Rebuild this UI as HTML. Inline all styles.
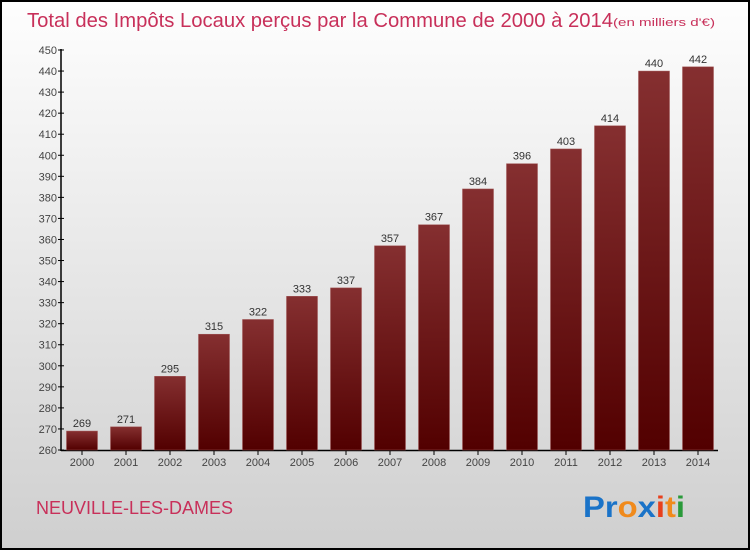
<!DOCTYPE html>
<html><head><meta charset="utf-8"><style>
body{margin:0;width:750px;height:550px;overflow:hidden}
svg{display:block}
text{font-family:"Liberation Sans",sans-serif}
</style></head><body>
<svg id="c" width="750" height="550" xmlns="http://www.w3.org/2000/svg">
<defs>
<linearGradient id="bg" x1="0" y1="0" x2="0" y2="1"><stop offset="0" stop-color="#fefefe"/><stop offset="1" stop-color="#cfcfcf"/></linearGradient>
<linearGradient id="bar" x1="0" y1="0" x2="0" y2="1"><stop offset="0" stop-color="#852f30"/><stop offset="1" stop-color="#520000"/></linearGradient>
</defs>
<rect x="1" y="1" width="748" height="548" fill="url(#bg)" stroke="#000" stroke-width="2"/>
<text x="27" y="27" font-size="20" fill="#c8305a" textLength="586" lengthAdjust="spacingAndGlyphs">Total des Impôts Locaux perçus par la Commune de 2000 à 2014</text>
<text x="613" y="26" font-size="11" fill="#c8305a" textLength="102" lengthAdjust="spacingAndGlyphs">(en milliers d'€)</text>
<text x="36" y="514" font-size="18" fill="#c8305a">NEUVILLE-LES-DAMES</text>
<g font-size="30" font-weight="bold">
<text x="583" y="517" textLength="102" lengthAdjust="spacingAndGlyphs"><tspan fill="#1a73c8">Pr</tspan><tspan fill="#f08a1c">o</tspan><tspan fill="#1a73c8">x</tspan><tspan fill="#e8401c">i</tspan><tspan fill="#f08a1c">t</tspan><tspan fill="#2a9a3a">i</tspan></text>
</g>
<g id="axes"></g>
<g id="bars"></g>
</svg>
<script>
const years=["2000","2001","2002","2003","2004","2005","2006","2007","2008","2009","2010","2011","2012","2013","2014"];
const values=[269,271,295,315,322,333,337,357,367,384,396,403,414,440,442];
const yTicks=[260,270,280,290,300,310,320,330,340,350,360,370,380,390,400,410,420,430,440,450];
const NS="http://www.w3.org/2000/svg";
const y0=450,y1=50,vmin=260,vmax=450;
function ys(v){return y0-(v-vmin)/(vmax-vmin)*(y0-y1);}
function xs(i){return 82+i*44;}
function mk(t,a,p){const e=document.createElementNS(NS,t);for(const k in a)e.setAttribute(k,a[k]);p.appendChild(e);return e;}
const ax=document.getElementById('axes'),bs=document.getElementById('bars');
const yl=mk('line',{x1:61,y1:49,x2:61,y2:451,stroke:'#000','stroke-width':1.5},ax);


const xl=mk('line',{x1:61,y1:450.5,x2:718,y2:450.5,stroke:'#000','stroke-width':1.5},ax);


yTicks.forEach(v=>{
 const y=ys(v);
 mk('line',{x1:58,y1:y,x2:64,y2:y,stroke:'#000'},ax);
 const t=mk('text',{x:57,y:y+4,'font-size':11,fill:'#444','text-anchor':'end'},ax);
 t.textContent=v;
 
 
});
years.forEach((yr,i)=>{
 const x=xs(i);
 mk('line',{x1:x,y1:450,x2:x,y2:455,stroke:'#000'},ax);
 const t=mk('text',{x:x,y:466,'font-size':11,fill:'#444','text-anchor':'middle'},ax);
 t.textContent=yr;
 
 
 const top=ys(values[i]);
 const r=mk('rect',{x:x-15.5,y:top,width:31,height:450-top,fill:'url(#bar)',stroke:'#a05555','stroke-width':0.5},bs);
 
 
 const l=mk('text',{x:x,y:top-4,'font-size':11,fill:'#333','text-anchor':'middle'},bs);
 l.textContent=values[i];
 
 
});
</script>
</body></html>
